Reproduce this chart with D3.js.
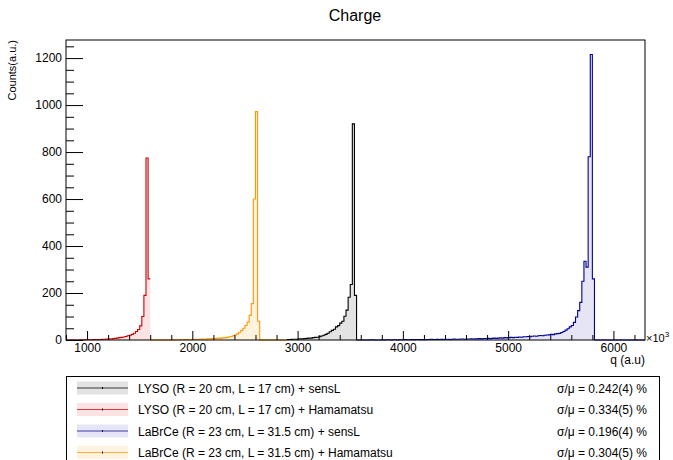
<!DOCTYPE html>
<html>
<head>
<meta charset="utf-8">
<script src="https://cdn.jsdelivr.net/npm/d3@7"></script>
<style>
  body { margin: 0; background: #fff; }
  text { font-family: "Liberation Sans", Arial, Helvetica, sans-serif; }
</style>
</head>
<body>
<div id="chart"></div>
<script>
// histogram bins are 20 units wide, counts start at the given q
var binWidth = 20;

var labels = [
    "LYSO (R = 20 cm, L = 17 cm) + sensL",
    "LYSO (R = 20 cm, L = 17 cm) + Hamamatsu",
    "LaBrCe (R = 23 cm, L = 31.5 cm) + sensL",
    "LaBrCe (R = 23 cm, L = 31.5 cm) + Hamamatsu"
];
var sigmas = ["0.242(4)", "0.334(5)", "0.196(4)", "0.304(5)"];
var starts = [2900, 800, 3580, 1600];

var lysoSensL = [
    2, 2, 3, 3, 3, 4, 5, 5, 6, 7,
    8, 8, 10, 11, 12, 14, 17, 20, 24, 29,
    35, 41, 46, 56, 61, 72, 80, 101, 127, 182,
    236, 920, 190, 0
];
var lysoHama = [
    0, 0, 0, 0, 0, 0, 0, 1, 0, 1,
    1, 1, 1, 2, 1, 2, 2, 3, 3, 4,
    5, 4, 6, 7, 8, 10, 11, 13, 15, 18,
    20, 24, 29, 36, 45, 60, 100, 190, 775, 260
];
var labrSensL = [
    0, 0, 0, 0, 0, 0, 1, 0, 0, 0,
    0, 1, 0, 1, 1, 0, 1, 1, 0, 1,
    1, 1, 2, 1, 1, 2, 1, 2, 2, 1,
    2, 1, 2, 2, 3, 2, 2, 3, 2, 3,
    2, 3, 3, 2, 3, 4, 3, 3, 4, 4,
    3, 4, 4, 5, 4, 5, 5, 6, 5, 6,
    6, 7, 6, 7, 8, 7, 8, 9, 8, 10,
    9, 10, 11, 10, 12, 11, 13, 12, 14, 14,
    15, 14, 16, 17, 16, 18, 19, 18, 20, 21,
    22, 24, 23, 26, 27, 28, 32, 36, 42, 48,
    56, 62, 75, 98, 125, 160, 250, 335, 310, 780,
    1215, 260, 0, 0, 0, 0, 0, 0, 0, 0,
    0, 0, 0, 0, 0, 0, 0, 0, 0, 0,
    0, 0, 0, 0, 0, 0
];
var labrHama = [
    0, 0, 0, 0, 0, 0, 0, 0, 1, 0,
    1, 0, 1, 1, 1, 1, 2, 1, 2, 2,
    2, 3, 2, 3, 4, 3, 4, 5, 5, 6,
    6, 7, 8, 7, 9, 10, 11, 13, 15, 18,
    21, 26, 33, 41, 50, 62, 76, 105, 155, 600,
    972, 80, 0, 0, 0, 0, 0, 0, 0, 0,
    0, 0, 0, 0, 0
];

var series = [lysoSensL, lysoHama, labrSensL, labrHama];
var lineColors = ["#000000", "#d00000", "#000099", "#ff9900"];
var fillColors = ["rgba(0,0,0,0.11)", "rgba(220,0,0,0.11)", "rgba(0,0,153,0.1)", "rgba(255,153,0,0.12)"];

var xMajor = [1000, 2000, 3000, 4000, 5000, 6000];
var yMajor = [0, 200, 400, 600, 800, 1000, 1200];

var width = 673;
var height = 460;

var svg = d3.select("#chart")
    .append("svg")
    .attr("width", width)
    .attr("height", height);

svg.append("rect").attr("width", width).attr("height", height).attr("fill", "#fff");

var x = d3.scaleLinear().domain([800, 6300]).range([66, 645]);
var y = d3.scaleLinear().domain([0, 1277]).range([340, 40]);

var xMinor = d3.range(800, 6300, 200).filter(function(v){ return v % 1000 != 0; });
var yMinor = d3.range(0, 1277, 50).filter(function(v){ return v % 200 != 0; });

// histograms
var line = d3.line()
    .x(function(d){ return x(d[0]); })
    .y(function(d){ return y(d[1]); })
    .curve(d3.curveStepAfter);

var area = d3.area()
    .x(function(d){ return x(d[0]); })
    .y0(y(0))
    .y1(function(d){ return y(d[1]); })
    .curve(d3.curveStepAfter);

series.forEach(function(counts, i){
    var pts = counts.map(function(c, j){ return [starts[i] + j * binWidth, c]; });
    pts.push([starts[i] + counts.length * binWidth, counts[counts.length - 1]]);

    svg.append("path")
        .attr("d", area(pts))
        .attr("fill", fillColors[i]);

    svg.append("path")
        .attr("d", line(pts))
        .attr("fill", "none")
        .attr("stroke", lineColors[i])
        .attr("stroke-width", 1.1);
});

// frame
svg.append("rect")
    .attr("x", 66).attr("y", 40)
    .attr("width", 645 - 66).attr("height", 300)
    .attr("fill", "none")
    .attr("stroke", "#000")
    .attr("stroke-width", 1);

// axes (ticks point into the frame)
svg.append("g")
    .attr("transform", "translate(0,340)")
    .call(d3.axisBottom(x).tickValues(xMajor).tickSizeInner(-9).tickSizeOuter(0).tickPadding(3).tickFormat(d3.format("d")));
svg.append("g")
    .attr("transform", "translate(0,340)")
    .call(d3.axisBottom(x).tickValues(xMinor).tickSizeInner(-5).tickSizeOuter(0).tickFormat(""));

svg.append("g")
    .attr("transform", "translate(66,0)")
    .call(d3.axisLeft(y).tickValues(yMajor).tickSizeInner(-17).tickSizeOuter(0).tickPadding(4).tickFormat(d3.format("d")));
svg.append("g")
    .attr("transform", "translate(66,0)")
    .call(d3.axisLeft(y).tickValues(yMinor).tickSizeInner(-8).tickSizeOuter(0).tickFormat(""));

svg.selectAll(".domain").remove();
svg.selectAll(".tick line").attr("stroke", "#000");
svg.selectAll(".tick text")
    .attr("font-size", 12)
    .attr("font-family", "Liberation Sans, Arial, sans-serif")
    .attr("fill", "#000");

// titles
svg.append("text")
    .attr("x", 355).attr("y", 21)
    .attr("text-anchor", "middle")
    .attr("font-size", 16)
    .text("Charge");

svg.append("text")
    .attr("transform", "translate(16,40) rotate(-90)")
    .attr("text-anchor", "end")
    .attr("font-size", 11)
    .text("Counts(a.u.)");

svg.append("text")
    .attr("x", 645).attr("y", 364)
    .attr("text-anchor", "end")
    .attr("font-size", 12)
    .text("q (a.u)");

var exp = svg.append("text")
    .attr("x", 646).attr("y", 342)
    .attr("font-size", 11);
exp.append("tspan").text("\u00d710");
exp.append("tspan").attr("dy", -5).attr("font-size", 8).text("3");

// legend
var legend = svg.append("g");

legend.append("rect")
    .attr("x", 66.5).attr("y", 376.5)
    .attr("width", 593).attr("height", 100)
    .attr("fill", "#fff")
    .attr("stroke", "#000");

labels.forEach(function(label, i){
    var cy = 388 + i * 21.5;

    legend.append("rect")
        .attr("x", 77).attr("y", cy - 6.5)
        .attr("width", 51).attr("height", 13)
        .attr("fill", fillColors[i]);

    legend.append("line")
        .attr("x1", 77).attr("x2", 128)
        .attr("y1", cy).attr("y2", cy)
        .attr("stroke", lineColors[i])
        .attr("stroke-opacity", 0.75)
        .attr("stroke-width", 1.1);

    legend.append("line")
        .attr("x1", 102.5).attr("x2", 102.5)
        .attr("y1", cy - 1).attr("y2", cy + 1)
        .attr("stroke", "#000");

    legend.append("text")
        .attr("x", 138).attr("y", cy + 4.5)
        .attr("font-size", 12)
        .text(label);

    legend.append("text")
        .attr("x", 647).attr("y", cy + 4.5)
        .attr("text-anchor", "end")
        .attr("font-size", 12)
        .text("\u03c3/\u03bc = " + sigmas[i] + " %");
});
</script>
</body>
</html>
